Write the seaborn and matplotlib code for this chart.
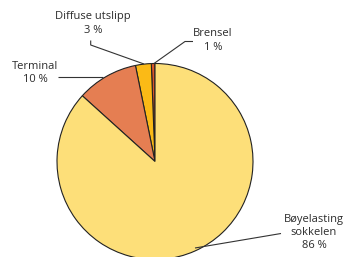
import matplotlib
matplotlib.use("Agg")
import matplotlib.pyplot as plt
import seaborn as sns

# shares (slices start at 12 o'clock, counter-clockwise)
categories = ["Brensel", "Diffuse utslipp", "Terminal", "Bøyelasting\nsokkelen"]
shares = [0.6, 2.6, 10.1, 86.7]
pct_labels = ["1 %", "3 %", "10 %", "86 %"]
colors = ["#D9562B", "#FBBA16", "#E57E52", "#FDDF79"]

sns.set_style("white")
plt.rcParams["font.family"] = ["Open Sans", "DejaVu Sans"]

fig = plt.figure(figsize=(3.45, 2.57), dpi=100)
ax = fig.add_axes([0, 0, 1, 1])

H = 257
cx, cy, r = 155, H - 161.5, 98
ax.pie(shares, colors=colors, startangle=90, counterclock=True,
       center=(cx, cy), radius=r,
       wedgeprops=dict(edgecolor="#222222", linewidth=0.8))

ax.set_xlim(0, 345)
ax.set_ylim(0, H)
ax.set_aspect("equal")
ax.axis("off")

# label block centres and leader lines, in pixels from top-left
label_pos = [(213, 40.5), (93, 23.5), (35, 73), (314, 232.5)]
leaders = [
    [(193, 41.5), (185, 41.5), (154, 63.5)],
    [(90.7, 40.5), (90.7, 45), (144, 64)],
    [(58, 77.3), (103, 77.3)],
    [(281, 233.5), (195, 248)],
]
for name, pct, (x, y), pts in zip(categories, pct_labels, label_pos, leaders):
    ax.text(x, H - y, name + "\n" + pct, ha="center", va="center",
            fontsize=8, color="#2b2b2b", linespacing=1.3)
    ax.plot([p[0] for p in pts], [H - p[1] for p in pts],
            color="#333333", linewidth=0.8, solid_capstyle="butt")

fig.savefig("out.png", dpi=100)
